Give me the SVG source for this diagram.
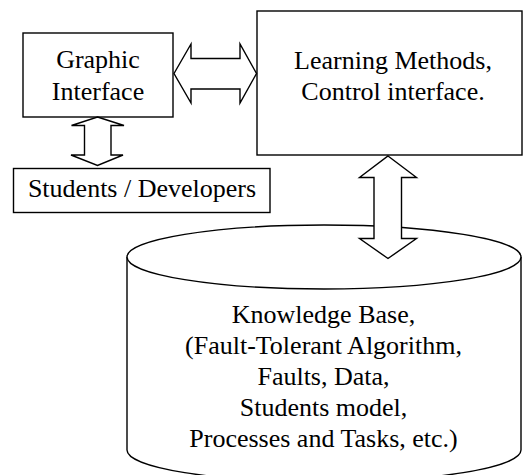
<svg xmlns="http://www.w3.org/2000/svg" width="523" height="475" viewBox="0 0 523 475">
<style>
.box{fill:#fff;stroke:#000;stroke-width:1.4}
.arr{fill:#fff;stroke:#000;stroke-width:1.4;stroke-linejoin:miter}
</style>
<rect width="523" height="475" fill="#fff"/>
<g font-family="Liberation Serif, serif" font-size="26" text-anchor="middle" fill="#000">
<g id="knowledge-base">
<path class="box" d="M127,257 L127,450 A197,32 0 0 0 521,450 L521,257 A197,32 0 0 0 127,257 Z"/>
<path class="box" fill="none" d="M127,257 A197,32 0 0 0 521,257"/>
<text x="323.5" y="323">Knowledge Base,</text>
<text x="323.5" y="354">(Fault-Tolerant Algorithm,</text>
<text x="323.5" y="385">Faults, Data,</text>
<text x="323.5" y="416">Students model,</text>
<text x="323.5" y="447">Processes and Tasks, etc.)</text>
</g>
<g id="graphic-interface">
<rect class="box" x="23" y="33" width="150" height="84"/>
<text x="98" y="68">Graphic</text>
<text x="98" y="100">Interface</text>
</g>
<g id="learning-methods">
<rect class="box" x="257" y="11" width="265" height="144"/>
<text x="393" y="69">Learning Methods,</text>
<text x="393" y="100">Control interface.</text>
</g>
<g id="students">
<rect class="box" x="13.5" y="168.5" width="256.5" height="44"/>
<text x="142" y="197">Students / Developers</text>
</g>
</g>
<g id="connectors">
<path class="arr" d="M174,73.5 L191,44 L191,58.5 L240,58.5 L240,44 L256.5,73.5 L240,103 L240,89 L191,89 L191,103 Z"/>
<path class="arr" d="M97.5,117 L124,125.5 L111,125.5 L111,155 L123,155 L97.5,165.5 L71,155 L84.5,155 L84.5,125.5 L71.5,125.5 Z"/>
<path class="arr" d="M388,156 L416.5,177.5 L401.5,177.5 L401.5,238.5 L416.5,238.5 L388,258.5 L359.5,238.5 L374,238.5 L374,177.5 L359.5,177.5 Z"/>
</g>
</svg>
